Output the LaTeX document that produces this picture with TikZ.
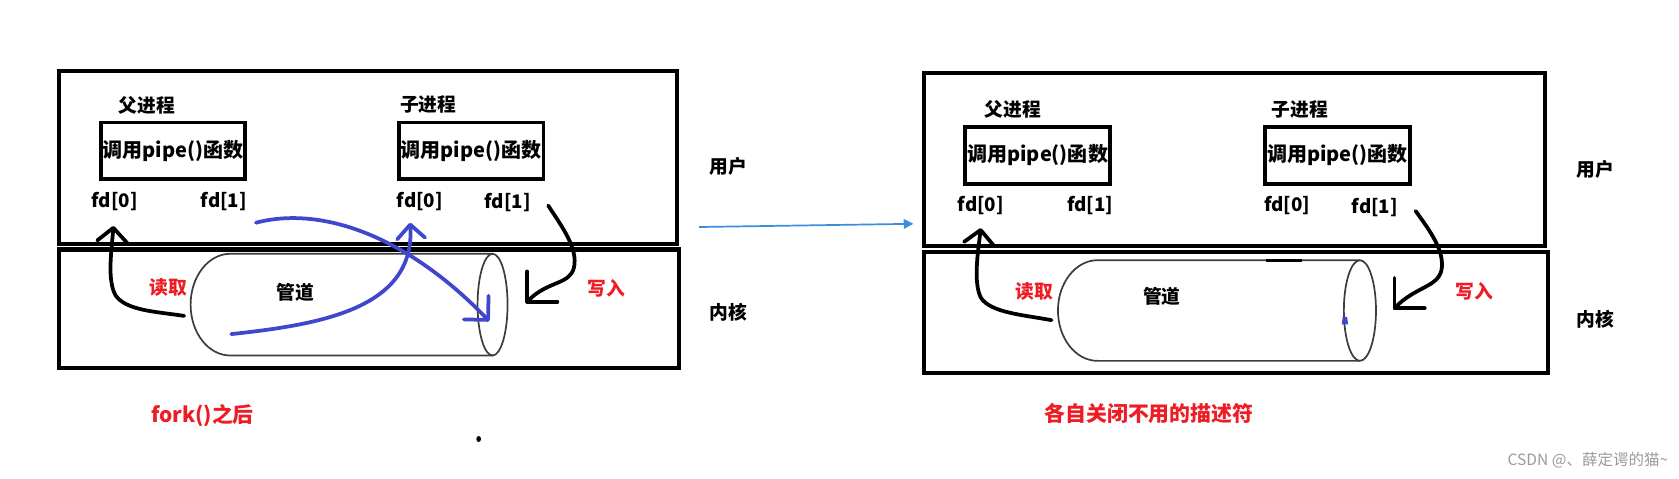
\documentclass[tikz,border=0pt]{standalone}
\usepackage{fontspec}
\setmainfont{Noto Sans CJK SC}
\usetikzlibrary{arrows.meta}
\definecolor{redtxt}{HTML}{EE1C24}
\definecolor{penblue}{HTML}{3F48CC}
\definecolor{linkblue}{HTML}{3B8EDB}
\definecolor{tubegray}{HTML}{3C3C3C}
\definecolor{markgray}{HTML}{9A9A9A}
\begin{document}
\begin{tikzpicture}[x=1pt,y=-1pt,
  frame/.style={draw=black,line width=3.8pt},
  callbox/.style={draw=black,line width=3.5pt,minimum width=135pt,minimum height=53pt,inner sep=0pt,font=\bfseries\fontsize{18.7}{21}\selectfont},
  lbl/.style={inner sep=0pt,font=\bfseries\fontsize{17.5}{20}\selectfont},
  redlbl/.style={lbl,text=redtxt},
  caption/.style={inner sep=0pt,text=redtxt,font=\bfseries\fontsize{19.5}{22}\selectfont},
  tube/.style={draw=tubegray,line width=1.6pt},
  hand/.style={line width=3.5pt,line cap=round,line join=round},
  readtip/.style={-{Straight Barb[length=13pt,width=28pt,line cap=round,line join=round]}},
  writetip/.style={-{Straight Barb[length=20pt,width=40pt,line cap=round,line join=round]}},
  bluetip/.style={-{Straight Barb[length=16pt,width=32pt,line cap=round,line join=round]}},
  upbluetip/.style={-{Straight Barb[length=13pt,width=26pt,line cap=round,line join=round]}},
]
\useasboundingbox (0,0) rectangle (1568,447);

% ---------------- left panel ----------------
\draw[frame] (55,66) rectangle (632,228);
\draw[frame] (55,233) rectangle (634,344);

\node[lbl] (pL) at (137,98) {父进程};
\node[lbl] (cL) at (400,98) {子进程};
\node[callbox] (bpL) at (161.5,141) {调用pipe()函数};
\node[callbox] (bcL) at (440,141) {调用pipe()函数};
\node[lbl] (f0pL) at (107,188) {fd[0]};
\node[lbl] (f1pL) at (209,188) {fd[1]};
\node[lbl] (f0cL) at (392,188) {fd[0]};
\node[lbl] (f1cL) at (474,189) {fd[1]};
\node[lbl] (uL) at (680,155) {用户};
\node[lbl] (kL) at (680,292) {内核};

% pipe cylinder
\draw[tube] (460,237) -- (215,237) arc[start angle=-90,end angle=-270,x radius=37,y radius=47.5] -- (460,332);
\draw[tube] (460,284.5) ellipse[x radius=14,y radius=47.5];
\node[lbl] (tubeL) at (276,273) {管道};
\node[redlbl] (rdL) at (157,268) {读取};
\node[redlbl] (wrL) at (566,269) {写入};

\coordinate (rdLs) at (172,295);
\coordinate (rdLe) at (106,211);
\draw[hand,readtip] (rdLs) .. controls (145,291) and (118,290) .. (108,276) .. controls (100,262) and (104,235) .. (rdLe);
\coordinate (wrLs) at (512,192);
\coordinate (wrLe) at (491,283);
\draw[hand,writetip] (wrLs) .. controls (525,212) and (540,232) .. (536,250) .. controls (532,266) and (512,262) .. (wrLe);

\coordinate (blAs) at (239,208);
\coordinate (blAe) at (457,300);
\draw[hand,penblue,bluetip] (blAs) .. controls (300,192) and (380,220) .. (blAe);
\coordinate (blBs) at (216,312);
\coordinate (blBe) at (383,208);
\draw[hand,penblue,upbluetip] (blBs) .. controls (300,303) and (388,288) .. (blBe);

\node[caption] (capL) at (189,388) {fork()之后};
\fill (447,410) ellipse[x radius=2.2,y radius=2.8];

% transfer arrow
\coordinate (tS) at (653,212);
\coordinate (tE) at (853,209);
\draw[linkblue,line width=1.6pt,-{Triangle[length=9pt,width=9pt]}] (tS) -- (tE);

% ---------------- right panel ----------------
\draw[frame] (863,68) rectangle (1443,230);
\draw[frame] (863,235) rectangle (1446,348);

\node[lbl] (pR) at (946,102) {父进程};
\node[lbl] (cR) at (1214,102) {子进程};
\node[callbox] (bpR) at (969,145) {调用pipe()函数};
\node[callbox] (bcR) at (1249,145) {调用pipe()函数};
\node[lbl] (f0pR) at (916,192) {fd[0]};
\node[lbl] (f1pR) at (1018,192) {fd[1]};
\node[lbl] (f0cR) at (1202,192) {fd[0]};
\node[lbl] (f1cR) at (1284,194) {fd[1]};
\node[lbl] (uR) at (1490,158) {用户};
\node[lbl] (kR) at (1490,298) {内核};

\draw[tube] (1270,243) -- (1025,243) arc[start angle=-90,end angle=-270,x radius=37,y radius=47] -- (1270,337);
\draw[tube] (1270,290) ellipse[x radius=15,y radius=47];
\draw[black,line width=3pt] (1182,243) -- (1216,243);
\fill[penblue] (1254,296) -- (1258,296) -- (1259,303) -- (1253,303) -- cycle;
\node[lbl] (tubeR) at (1085,277) {管道};
\node[redlbl] (rdR) at (966,272) {读取};
\node[redlbl] (wrR) at (1377,272) {写入};

\coordinate (rdRs) at (982,299);
\coordinate (rdRe) at (916,213);
\draw[hand,readtip] (rdRs) .. controls (955,294) and (925,292) .. (916,278) .. controls (909,264) and (913,237) .. (rdRe);
\coordinate (wrRs) at (1322,197);
\coordinate (wrRe) at (1301,289);
\draw[hand,writetip] (wrRs) .. controls (1335,215) and (1350,235) .. (1346,253) .. controls (1342,268) and (1322,268) .. (wrRe);

\node[caption] (capR) at (1073,386) {各自关闭不用的描述符};
\node[inner sep=0pt,text=markgray,font=\fontsize{14.5}{17}\selectfont] (wm) at (1483,430) {CSDN @、薛定谔的猫\textasciitilde};
\end{tikzpicture}
\end{document}
